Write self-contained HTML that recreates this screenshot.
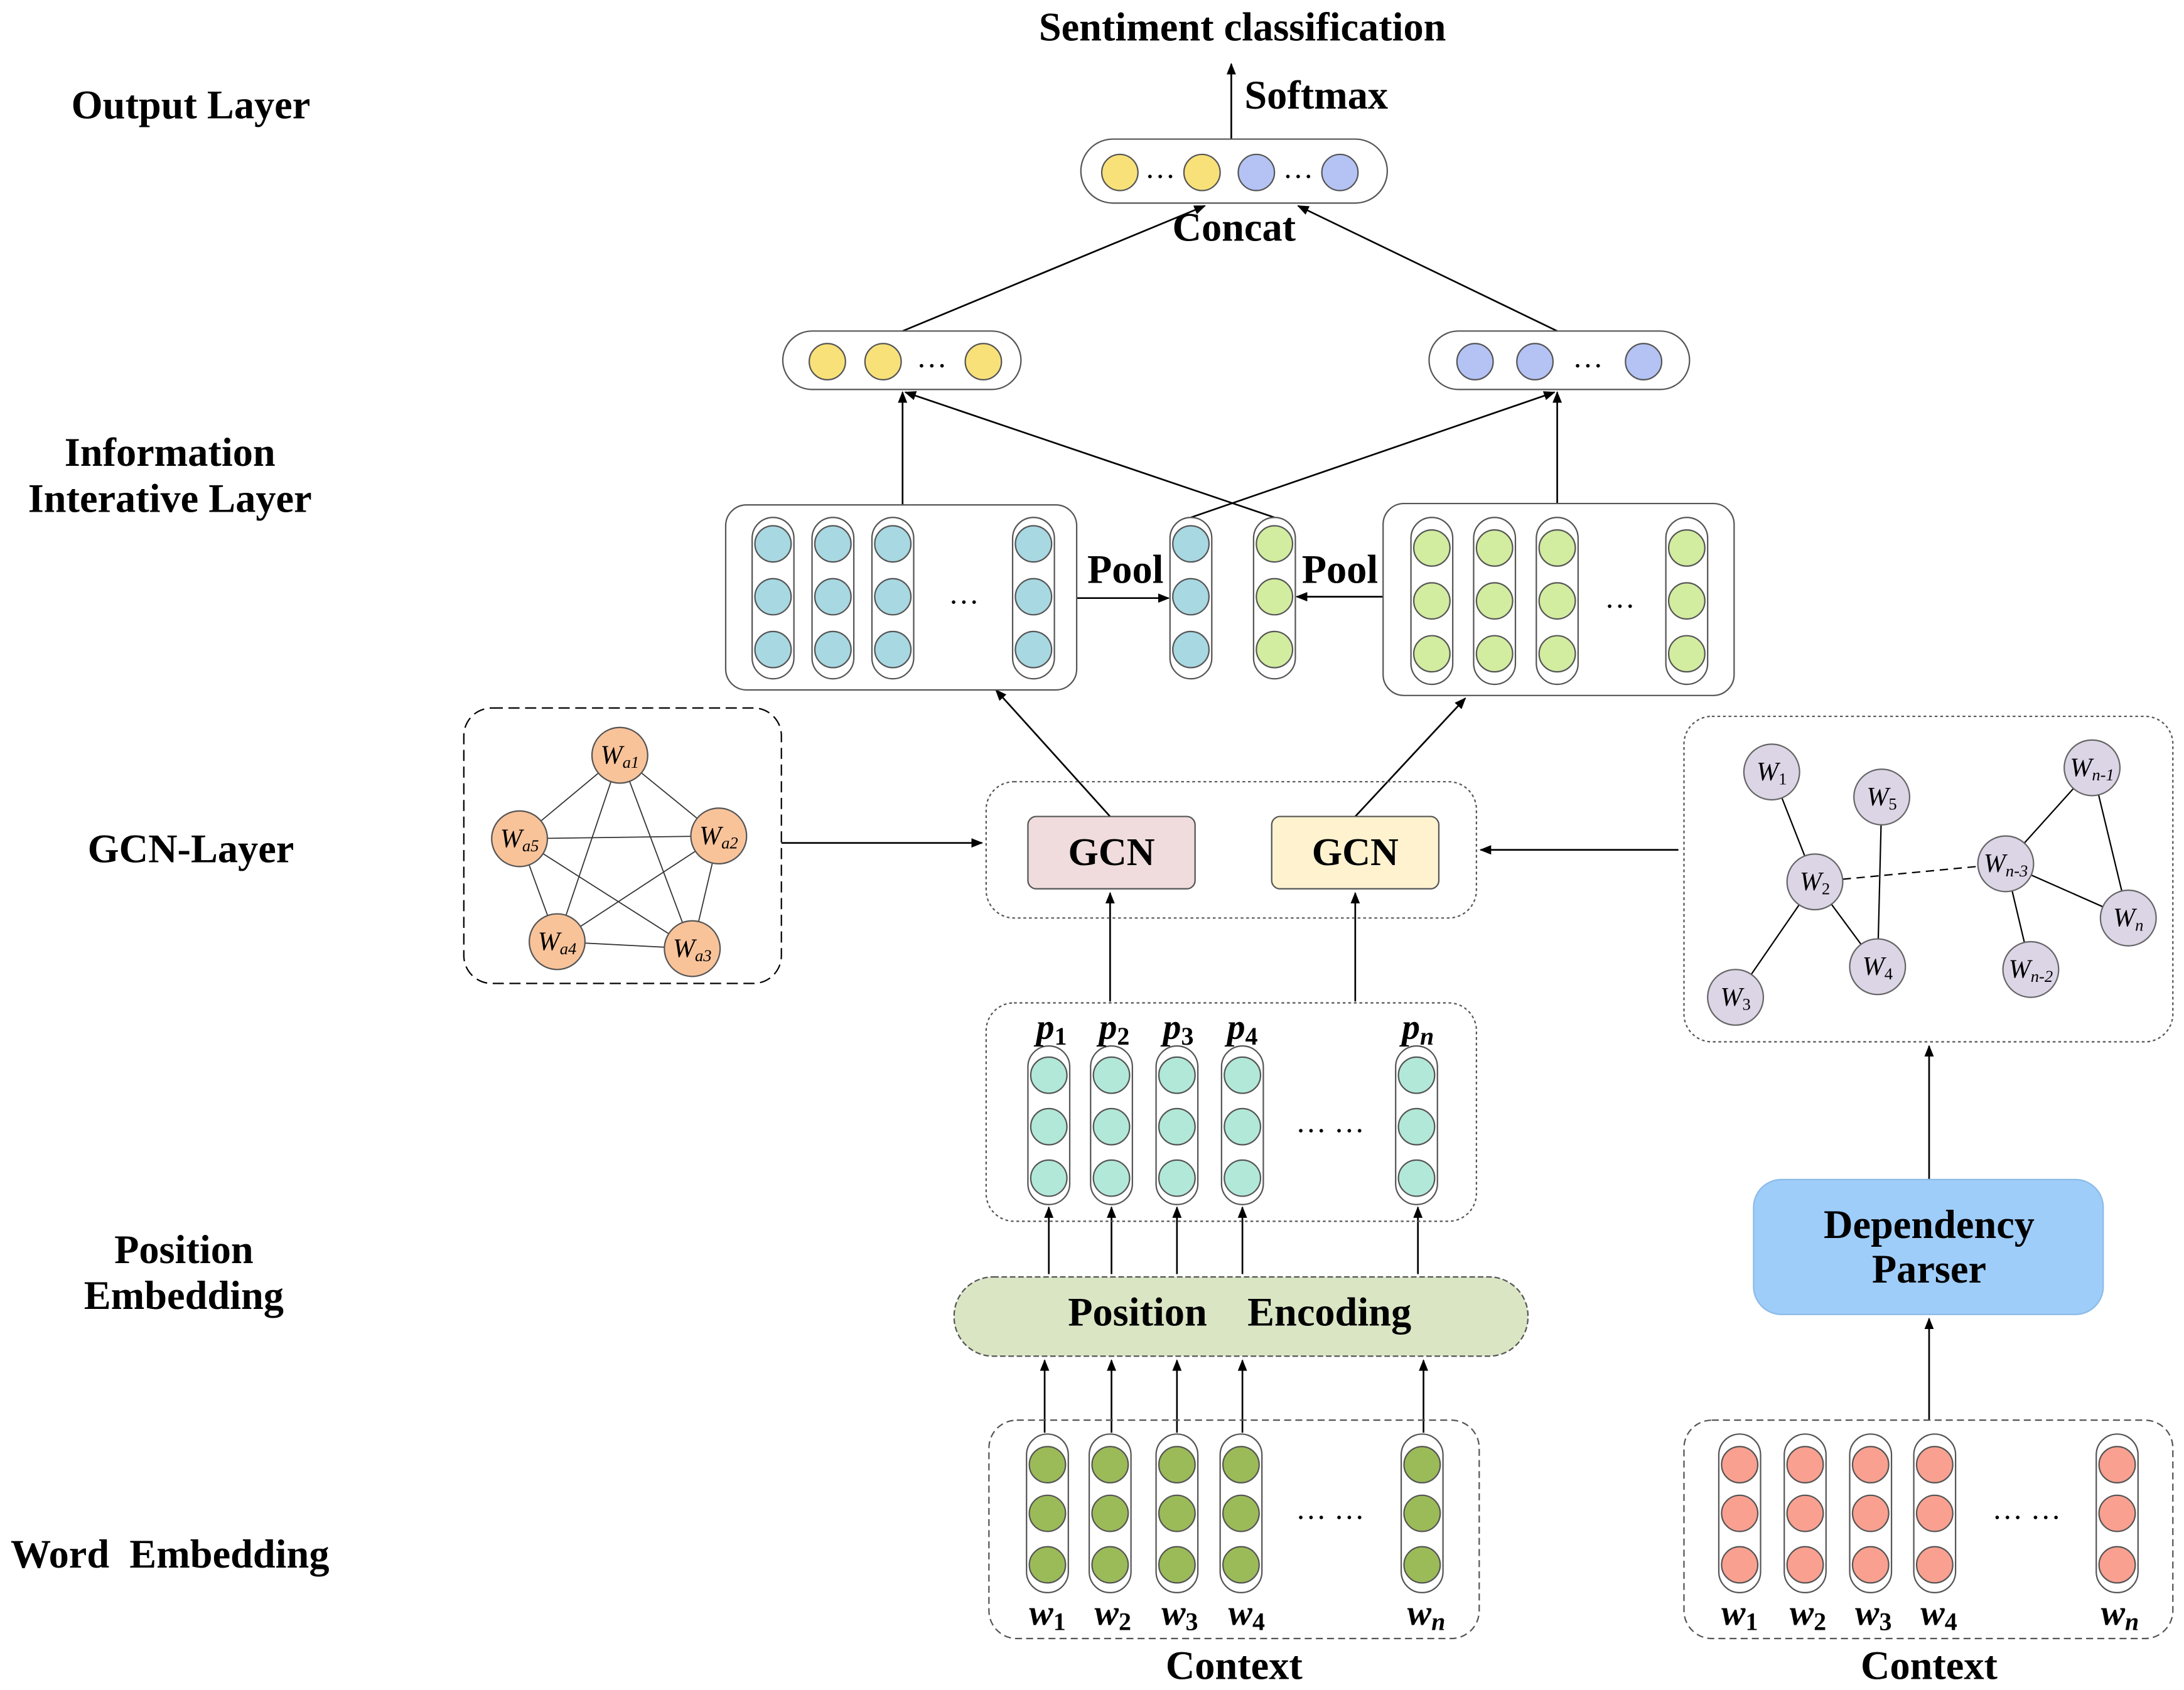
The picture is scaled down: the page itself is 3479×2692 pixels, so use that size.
<!DOCTYPE html>
<html><head><meta charset="utf-8"><style>
html,body{margin:0;padding:0;background:#fff;}
svg{display:block;}
text{font-family:"Liberation Serif",serif;}
</style></head><body>
<svg width="3479" height="2692" viewBox="0 0 1568 1215" preserveAspectRatio="none" xmlns="http://www.w3.org/2000/svg">
<defs>
<marker id="a" viewBox="0 0 10 10" refX="9" refY="5" markerWidth="7" markerHeight="7" orient="auto-start-reverse"><path d="M0,1 L10,5 L0,9 z" fill="#000"/></marker>
</defs>
<rect width="1568" height="1215" fill="#fff"/>
<g fill="none" stroke="#000" stroke-width="1.2">
<line x1="884" y1="100" x2="884" y2="46" marker-end="url(#a)"/>
<line x1="648" y1="238" x2="865" y2="148" marker-end="url(#a)"/>
<line x1="1118" y1="238" x2="932" y2="148" marker-end="url(#a)"/>
<line x1="648" y1="363" x2="648" y2="282" marker-end="url(#a)"/>
<line x1="1118" y1="362" x2="1118" y2="282" marker-end="url(#a)"/>
<line x1="855" y1="372" x2="1116" y2="282" marker-end="url(#a)"/>
<line x1="915" y1="372" x2="650" y2="282" marker-end="url(#a)"/>
<line x1="773" y1="430" x2="839" y2="430" marker-end="url(#a)"/>
<line x1="993" y1="429" x2="931" y2="429" marker-end="url(#a)"/>
<line x1="797" y1="587" x2="715" y2="496" marker-end="url(#a)"/>
<line x1="973" y1="587" x2="1052" y2="502" marker-end="url(#a)"/>
<line x1="561" y1="606" x2="705" y2="606" marker-end="url(#a)"/>
<line x1="1205" y1="611" x2="1063" y2="611" marker-end="url(#a)"/>
<line x1="797" y1="720" x2="797" y2="642" marker-end="url(#a)"/>
<line x1="973" y1="720" x2="973" y2="642" marker-end="url(#a)"/>
<line x1="1385" y1="1021" x2="1385" y2="948" marker-end="url(#a)"/>
<line x1="1385" y1="848" x2="1385" y2="752" marker-end="url(#a)"/>
<line x1="753" y1="916" x2="753" y2="868" marker-end="url(#a)"/>
<line x1="798" y1="916" x2="798" y2="868" marker-end="url(#a)"/>
<line x1="845" y1="916" x2="845" y2="868" marker-end="url(#a)"/>
<line x1="892" y1="916" x2="892" y2="868" marker-end="url(#a)"/>
<line x1="1018" y1="916" x2="1018" y2="868" marker-end="url(#a)"/>
<line x1="750" y1="1030" x2="750" y2="978" marker-end="url(#a)"/>
<line x1="798" y1="1030" x2="798" y2="978" marker-end="url(#a)"/>
<line x1="845" y1="1030" x2="845" y2="978" marker-end="url(#a)"/>
<line x1="892" y1="1030" x2="892" y2="978" marker-end="url(#a)"/>
<line x1="1022" y1="1030" x2="1022" y2="978" marker-end="url(#a)"/>
</g>
<g stroke="#555" stroke-width="1" fill="none">
<rect x="776" y="100" width="220" height="46" rx="23"/>
<rect x="562" y="238" width="171" height="42" rx="21"/>
<rect x="1026" y="238" width="187" height="42" rx="21"/>
<rect x="521" y="363" width="252" height="133" rx="15"/>
<rect x="993" y="362" width="252" height="138" rx="15"/>
<rect x="708" y="562" width="352" height="98" rx="20" stroke-dasharray="2,2"/>
<rect x="333" y="509" width="228" height="198" rx="20" stroke="#000" stroke-dasharray="8,4"/>
<rect x="1209" y="515" width="351" height="234" rx="20" stroke-dasharray="2,2"/>
<rect x="708" y="721" width="352" height="157" rx="20" stroke-dasharray="2,2"/>
<rect x="710" y="1021" width="352" height="157" rx="20" stroke-dasharray="5,3"/>
<rect x="1209" y="1021" width="351" height="157" rx="20" stroke-dasharray="5,3"/>
</g>
<rect x="738" y="587" width="120" height="52" rx="6" fill="#f0dcdc" stroke="#555"/>
<rect x="913" y="587" width="120" height="52" rx="6" fill="#fef2cf" stroke="#555"/>
<text x="798" y="622" font-size="28" font-weight="bold" text-anchor="middle">GCN</text>
<text x="973" y="622" font-size="28" font-weight="bold" text-anchor="middle">GCN</text>
<rect x="685" y="918" width="412" height="57" rx="28" fill="#dae5c4" stroke="#555" stroke-dasharray="4,2"/>
<rect x="1259" y="848" width="251" height="97" rx="20" fill="#9fcdfa" stroke="#8bbbe8"/>
<g font-size="29" text-anchor="middle" fill="#000" font-weight="bold">
<text x="892" y="29">Sentiment classification</text>
<text x="945" y="78">Softmax</text>
<text x="137" y="85">Output Layer</text>
<text x="122" y="335">Information</text>
<text x="122" y="368">Interative Layer</text>
<text x="137" y="620">GCN-Layer</text>
<text x="132" y="908">Position</text>
<text x="132" y="941">Embedding</text>
<text x="122" y="1127" xml:space="preserve">Word  Embedding</text>
<text x="886" y="173">Concat</text>
<text x="808" y="419">Pool</text>
<text x="962" y="419">Pool</text>
<text x="886" y="1207">Context</text>
<text x="1385" y="1207">Context</text>
<text x="1385" y="890">Dependency</text>
<text x="1385" y="922">Parser</text>
<text x="890" y="953" xml:space="preserve">Position    Encoding</text>
</g>
<g stroke="#555" stroke-width="1">
<circle cx="804" cy="124" r="13" fill="#f9e17a"/><circle cx="863" cy="124" r="13" fill="#f9e17a"/>
<circle cx="902" cy="124" r="13" fill="#b4c3f4"/><circle cx="962" cy="124" r="13" fill="#b4c3f4"/>
<circle cx="594" cy="260" r="13" fill="#f9e17a"/><circle cx="634" cy="260" r="13" fill="#f9e17a"/><circle cx="706" cy="260" r="13" fill="#f9e17a"/>
<circle cx="1059" cy="260" r="13" fill="#b4c3f4"/><circle cx="1102" cy="260" r="13" fill="#b4c3f4"/><circle cx="1180" cy="260" r="13" fill="#b4c3f4"/>
</g>
<g font-size="22" text-anchor="middle">
<text x="833" y="128">…</text><text x="932" y="128">…</text>
<text x="669" y="264">…</text><text x="1140" y="264">…</text>
<text x="692" y="434">…</text><text x="1163" y="437">…</text>
<text x="955" y="814">… …</text><text x="955" y="1092">… …</text><text x="1455" y="1092">… …</text>
</g>
<g stroke="#555" stroke-width="1">
<g fill="none"><rect x="540" y="372" width="30" height="116" rx="15"/><rect x="583" y="372" width="30" height="116" rx="15"/><rect x="626" y="372" width="30" height="116" rx="15"/><rect x="727" y="372" width="30" height="116" rx="15"/><rect x="840" y="372" width="30" height="116" rx="15"/><rect x="900" y="372" width="30" height="116" rx="15"/>
<rect x="1013" y="372" width="30" height="120" rx="15"/><rect x="1058" y="372" width="30" height="120" rx="15"/><rect x="1103" y="372" width="30" height="120" rx="15"/><rect x="1196" y="372" width="30" height="120" rx="15"/>
<rect x="738" y="752" width="30" height="114" rx="15"/><rect x="783" y="752" width="30" height="114" rx="15"/><rect x="830" y="752" width="30" height="114" rx="15"/><rect x="877" y="752" width="30" height="114" rx="15"/><rect x="1002" y="752" width="30" height="114" rx="15"/>
<rect x="737" y="1031" width="30" height="114" rx="15"/><rect x="782" y="1031" width="30" height="114" rx="15"/><rect x="830" y="1031" width="30" height="114" rx="15"/><rect x="876" y="1031" width="30" height="114" rx="15"/><rect x="1006" y="1031" width="30" height="114" rx="15"/>
<rect x="1234" y="1031" width="30" height="114" rx="15"/><rect x="1281" y="1031" width="30" height="114" rx="15"/><rect x="1328" y="1031" width="30" height="114" rx="15"/><rect x="1374" y="1031" width="30" height="114" rx="15"/><rect x="1505" y="1031" width="30" height="114" rx="15"/></g>
<g fill="#a8d8e2">
<circle cx="555" cy="391" r="13"/><circle cx="555" cy="429" r="13"/><circle cx="555" cy="467" r="13"/>
<circle cx="598" cy="391" r="13"/><circle cx="598" cy="429" r="13"/><circle cx="598" cy="467" r="13"/>
<circle cx="641" cy="391" r="13"/><circle cx="641" cy="429" r="13"/><circle cx="641" cy="467" r="13"/>
<circle cx="742" cy="391" r="13"/><circle cx="742" cy="429" r="13"/><circle cx="742" cy="467" r="13"/>
<circle cx="855" cy="391" r="13"/><circle cx="855" cy="429" r="13"/><circle cx="855" cy="467" r="13"/></g>
<g fill="#d2eca0">
<circle cx="915" cy="391" r="13"/><circle cx="915" cy="429" r="13"/><circle cx="915" cy="467" r="13"/>
<circle cx="1028" cy="394" r="13"/><circle cx="1028" cy="432" r="13"/><circle cx="1028" cy="470" r="13"/>
<circle cx="1073" cy="394" r="13"/><circle cx="1073" cy="432" r="13"/><circle cx="1073" cy="470" r="13"/>
<circle cx="1118" cy="394" r="13"/><circle cx="1118" cy="432" r="13"/><circle cx="1118" cy="470" r="13"/>
<circle cx="1211" cy="394" r="13"/><circle cx="1211" cy="432" r="13"/><circle cx="1211" cy="470" r="13"/></g>
<g fill="#b2e8d8">
<circle cx="753" cy="773" r="13"/><circle cx="753" cy="810" r="13"/><circle cx="753" cy="847" r="13"/>
<circle cx="798" cy="773" r="13"/><circle cx="798" cy="810" r="13"/><circle cx="798" cy="847" r="13"/>
<circle cx="845" cy="773" r="13"/><circle cx="845" cy="810" r="13"/><circle cx="845" cy="847" r="13"/>
<circle cx="892" cy="773" r="13"/><circle cx="892" cy="810" r="13"/><circle cx="892" cy="847" r="13"/>
<circle cx="1017" cy="773" r="13"/><circle cx="1017" cy="810" r="13"/><circle cx="1017" cy="847" r="13"/></g>
<g fill="#9bbb59">
<circle cx="752" cy="1053" r="13"/><circle cx="752" cy="1088" r="13"/><circle cx="752" cy="1125" r="13"/>
<circle cx="797" cy="1053" r="13"/><circle cx="797" cy="1088" r="13"/><circle cx="797" cy="1125" r="13"/>
<circle cx="845" cy="1053" r="13"/><circle cx="845" cy="1088" r="13"/><circle cx="845" cy="1125" r="13"/>
<circle cx="891" cy="1053" r="13"/><circle cx="891" cy="1088" r="13"/><circle cx="891" cy="1125" r="13"/>
<circle cx="1021" cy="1053" r="13"/><circle cx="1021" cy="1088" r="13"/><circle cx="1021" cy="1125" r="13"/></g>
<g fill="#f9a090">
<circle cx="1249" cy="1053" r="13"/><circle cx="1249" cy="1088" r="13"/><circle cx="1249" cy="1125" r="13"/>
<circle cx="1296" cy="1053" r="13"/><circle cx="1296" cy="1088" r="13"/><circle cx="1296" cy="1125" r="13"/>
<circle cx="1343" cy="1053" r="13"/><circle cx="1343" cy="1088" r="13"/><circle cx="1343" cy="1125" r="13"/>
<circle cx="1389" cy="1053" r="13"/><circle cx="1389" cy="1088" r="13"/><circle cx="1389" cy="1125" r="13"/>
<circle cx="1520" cy="1053" r="13"/><circle cx="1520" cy="1088" r="13"/><circle cx="1520" cy="1125" r="13"/></g>
</g>
<g font-size="26" font-weight="bold" font-style="italic" text-anchor="middle">
<text x="755" y="747">p<tspan font-size="18" dy="4" font-style="normal">1</tspan></text>
<text x="800" y="747">p<tspan font-size="18" dy="4" font-style="normal">2</tspan></text>
<text x="846" y="747">p<tspan font-size="18" dy="4" font-style="normal">3</tspan></text>
<text x="892" y="747">p<tspan font-size="18" dy="4" font-style="normal">4</tspan></text>
<text x="1018" y="747">p<tspan font-size="18" dy="4">n</tspan></text>
<text x="752" y="1168">w<tspan font-size="18" dy="4" font-style="normal">1</tspan></text>
<text x="799" y="1168">w<tspan font-size="18" dy="4" font-style="normal">2</tspan></text>
<text x="847" y="1168">w<tspan font-size="18" dy="4" font-style="normal">3</tspan></text>
<text x="895" y="1168">w<tspan font-size="18" dy="4" font-style="normal">4</tspan></text>
<text x="1024" y="1168">w<tspan font-size="18" dy="4">n</tspan></text>
<text x="1249" y="1168">w<tspan font-size="18" dy="4" font-style="normal">1</tspan></text>
<text x="1298" y="1168">w<tspan font-size="18" dy="4" font-style="normal">2</tspan></text>
<text x="1345" y="1168">w<tspan font-size="18" dy="4" font-style="normal">3</tspan></text>
<text x="1392" y="1168">w<tspan font-size="18" dy="4" font-style="normal">4</tspan></text>
<text x="1522" y="1168">w<tspan font-size="18" dy="4">n</tspan></text>
</g>
<g stroke="#333" stroke-width="0.8">
<line x1="445" y1="543" x2="373" y2="603"/><line x1="445" y1="543" x2="516" y2="601"/><line x1="445" y1="543" x2="400" y2="677"/><line x1="445" y1="543" x2="497" y2="682"/>
<line x1="373" y1="603" x2="516" y2="601"/><line x1="373" y1="603" x2="400" y2="677"/><line x1="373" y1="603" x2="497" y2="682"/>
<line x1="516" y1="601" x2="400" y2="677"/><line x1="516" y1="601" x2="497" y2="682"/><line x1="400" y1="677" x2="497" y2="682"/>
</g>
<g fill="#f9c39a" stroke="#555">
<circle cx="445" cy="543" r="20"/><circle cx="373" cy="603" r="20"/><circle cx="516" cy="601" r="20"/><circle cx="400" cy="677" r="20"/><circle cx="497" cy="682" r="20"/>
</g>
<g font-size="19" font-style="italic" text-anchor="middle">
<text x="445" y="549">W<tspan font-size="12" dy="3">a1</tspan></text>
<text x="373" y="609">W<tspan font-size="12" dy="3">a5</tspan></text>
<text x="516" y="607">W<tspan font-size="12" dy="3">a2</tspan></text>
<text x="400" y="683">W<tspan font-size="12" dy="3">a4</tspan></text>
<text x="497" y="688">W<tspan font-size="12" dy="3">a3</tspan></text>
</g>
<g stroke="#000" stroke-width="1">
<line x1="1272" y1="555" x2="1303" y2="634"/><line x1="1351" y1="573" x2="1348" y2="695"/>
<line x1="1303" y1="634" x2="1246" y2="717"/><line x1="1303" y1="634" x2="1348" y2="695"/>
<line x1="1303" y1="634" x2="1440" y2="621" stroke-dasharray="6,4"/>
<line x1="1502" y1="552" x2="1440" y2="621"/><line x1="1502" y1="552" x2="1528" y2="660"/>
<line x1="1440" y1="621" x2="1528" y2="660"/><line x1="1440" y1="621" x2="1458" y2="697"/>
</g>
<g fill="#dcd5e6" stroke="#666">
<circle cx="1272" cy="555" r="20"/><circle cx="1351" cy="573" r="20"/><circle cx="1303" cy="634" r="20"/><circle cx="1246" cy="717" r="20"/><circle cx="1348" cy="695" r="20"/>
<circle cx="1502" cy="552" r="20"/><circle cx="1440" cy="621" r="20"/><circle cx="1528" cy="660" r="20"/><circle cx="1458" cy="697" r="20"/>
</g>
<g font-size="19" font-style="italic" text-anchor="middle">
<text x="1272" y="561">W<tspan font-size="12" dy="3" font-style="normal">1</tspan></text>
<text x="1351" y="579">W<tspan font-size="12" dy="3" font-style="normal">5</tspan></text>
<text x="1303" y="640">W<tspan font-size="12" dy="3" font-style="normal">2</tspan></text>
<text x="1246" y="723">W<tspan font-size="12" dy="3" font-style="normal">3</tspan></text>
<text x="1348" y="701">W<tspan font-size="12" dy="3" font-style="normal">4</tspan></text>
<text x="1502" y="558">W<tspan font-size="12" dy="3">n-1</tspan></text>
<text x="1440" y="627">W<tspan font-size="12" dy="3">n-3</tspan></text>
<text x="1528" y="666">W<tspan font-size="12" dy="3">n</tspan></text>
<text x="1458" y="703">W<tspan font-size="12" dy="3">n-2</tspan></text>
</g>
</svg>
</body></html>
